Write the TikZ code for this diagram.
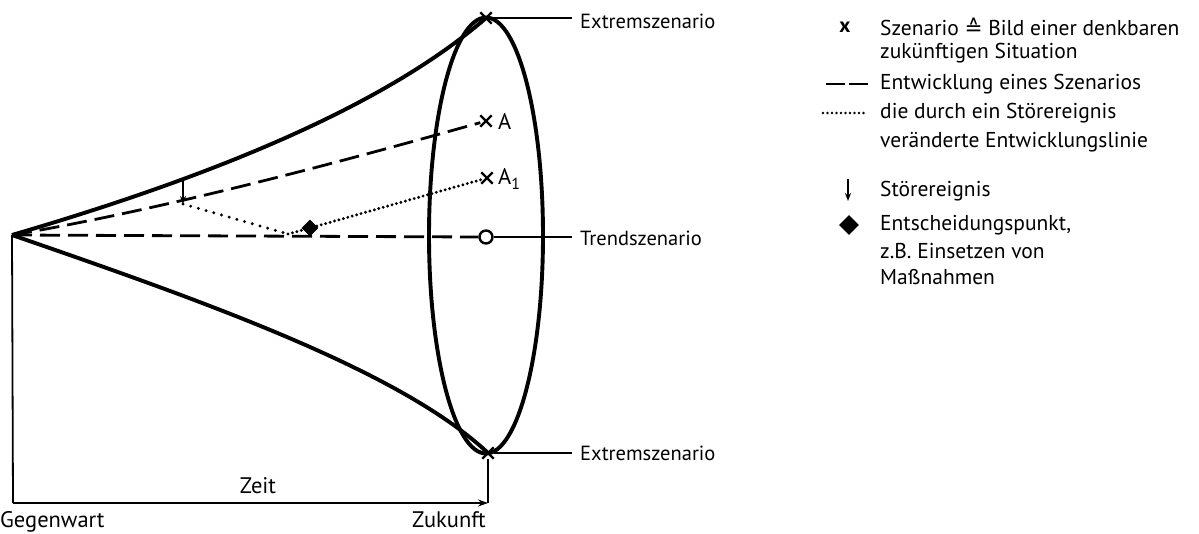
\documentclass[tikz,border=0pt]{standalone}
\usepackage{fontspec}
\setmainfont{PT Sans}
\newfontfamily\symf{DejaVu Sans}
\usetikzlibrary{arrows.meta,shapes.geometric,shapes.misc}
\begin{document}
\begin{tikzpicture}[x=1pt,y=-1pt,
  thickline/.style={line width=3.9pt},
  thinline/.style={line width=1.8pt},
  dashline/.style={line width=2.8pt, dash pattern=on 20pt off 8pt},
  dotline/.style={line width=3.2pt, dash pattern=on 0pt off 4.6pt, line cap=round},
  sparsedot/.style={line width=3.2pt, dash pattern=on 0pt off 8pt, line cap=round},
  lbl/.style={font=\fontsize{20.5}{24}\selectfont, anchor=west, inner sep=0pt},
  big/.style={font=\fontsize{22.5}{26}\selectfont, inner sep=0pt},
  legtxt/.style={font=\fontsize{21.5}{26.5}\selectfont, anchor=north west, align=left, inner sep=0pt},
  xmark/.style={cross out, draw, line width=2.4pt, minimum size=9pt, inner sep=0pt},
]
\useasboundingbox (0,0) rectangle (1199,533);
% points
\coordinate (O) at (12,235);
\node[xmark] (top) at (486,18) {};
\node[xmark] (bot) at (488,453) {};
\node[xmark] (A) at (486,121) {};
\node[xmark] (A1) at (487,178) {};
\node[circle, draw, line width=2.4pt, minimum size=13pt, inner sep=0pt] (T) at (486,237) {};
\node[anchor=west, big] (Alab) at (498,121) {A};
\node[anchor=west, big] (A1lab) at (498,179) {A\raisebox{-5pt}{\fontsize{16}{16}\selectfont 1}};
% ellipse and hull
\draw[thickline] (486,235.5) ellipse [x radius=57, y radius=218];
\draw[thickline] (O) .. controls (200,180) and (380,110) .. (top.center);
\draw[thickline] (O) .. controls (200,300) and (400,370) .. (bot.center);
% scenario lines
\draw[dashline] (O) .. controls (160,210) and (330,165) .. (A);
\draw[dashline] (O) -- (T.west);
\coordinate (s1) at (183,180);
\coordinate (s2) at (183,204);
\draw[thinline, -{Stealth[length=8pt,width=6pt]}] (s1) -- (s2);
\node[diamond, fill, minimum size=17pt, inner sep=0pt] (D) at (310,228) {};
\coordinate (k) at (288,234);
\draw[sparsedot] (s2) -- (k);
\draw[dotline] (k) -- (D);
\draw[dotline] (D) -- (A1);
% labels
\node[lbl] (e1) at (580,21) {Extremszenario};
\node[lbl] (tr) at (580,238) {Trendszenario};
\node[lbl] (e2) at (580,453) {Extremszenario};
\draw[thinline] (top) -- ([xshift=-8pt]e1.west |- top);
\draw[thinline] (T.east) -- ([xshift=-8pt]tr.west |- T);
\draw[thinline] (bot) -- ([xshift=-8pt]e2.west |- bot);
% axis
\coordinate (L) at (13,503);
\coordinate (R) at (488,503);
\draw[thinline] (O) -- (L);
\draw[thinline, -{Stealth[length=10pt,width=7pt]}] (L) -- (R);
\draw[thinline] (bot) -- (R);
\node[big] (zeit) at (258,486) {Zeit};
\node[big, anchor=base west] (gw) at (0,527) {Gegenwart};
\node[big, anchor=base] (zk) at (449,527) {Zukunft};
% legend
\node[font=\fontsize{21}{24}\selectfont\bfseries, inner sep=0pt] (lx) at (845,27) {x};
\node[legtxt, anchor=west] (l1) at (880,27) {Szenario {\symf ≙} Bild einer denkbaren};
\node[legtxt, anchor=west] (l1b) at (880,53) {zukünftigen Situation};
\coordinate (d1) at (826,84);
\coordinate (d2) at (868,84);
\draw[line width=2.4pt, dash pattern=on 19pt off 4pt] (d1) -- (d2);
\node[legtxt, anchor=west] (l2) at (880,84) {Entwicklung eines Szenarios};
\coordinate (p1) at (823,113);
\coordinate (p2) at (868,113);
\draw[line width=2.8pt, dash pattern=on 0pt off 4.5pt, line cap=round] (p1) -- (p2);
\node[legtxt, anchor=west] (l3) at (880,113) {die durch ein Störereignis};
\node[legtxt, anchor=west] (l3b) at (880,142) {veränderte Entwicklungslinie};
\coordinate (a1) at (848,179);
\coordinate (a2) at (848,201);
\draw[line width=1.8pt, -{Stealth[length=8pt,width=6pt]}] (a1) -- (a2);
\node[legtxt, anchor=west] (l4) at (880,191) {Störereignis};
\node[diamond, fill, minimum size=20pt, inner sep=0pt] (ld) at (849,225) {};
\node[legtxt, anchor=west] (l5) at (880,225) {Entscheidungspunkt,};
\node[legtxt, anchor=west] (l5b) at (880,251) {z.B. Einsetzen von};
\node[legtxt, anchor=west] (l5c) at (880,277) {Maßnahmen};
\end{tikzpicture}
\end{document}
